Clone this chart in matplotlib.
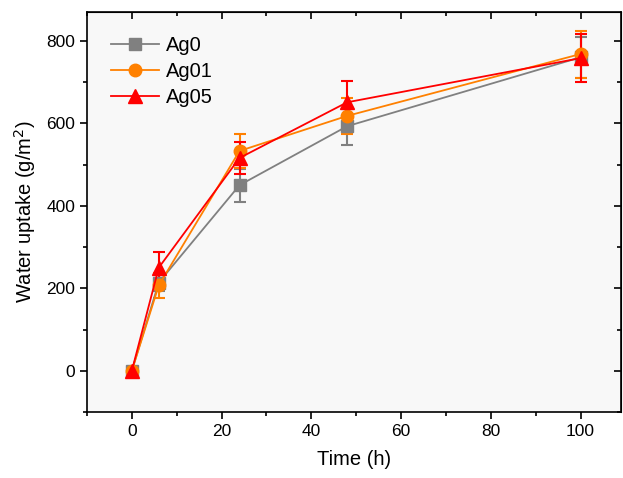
import numpy as np
import matplotlib
matplotlib.use('Agg')
import matplotlib.pyplot as plt

plt.rcParams['font.family'] = ['Liberation Sans', 'DejaVu Sans']

time = [0, 6, 24, 48, 100]
ag0 = [0, 214, 450, 593, 760]
ag0_err = [5, 20, 40, 45, 50]
ag01 = [0, 207, 533, 618, 768]
ag01_err = [5, 31, 42, 44, 57]
ag05 = [0, 250, 516, 651, 758]
ag05_err = [5, 39, 39, 51, 59]
names = ['Ag0', 'Ag01', 'Ag05']

fig = plt.figure(figsize=(6.23, 4.78), dpi=100)
ax = fig.add_axes([0.1396, 0.138, 0.857, 0.837])
ax.set_facecolor('#f8f8f8')

series = [(ag0, ag0_err, '#808080', 's', 8),
          (ag01, ag01_err, '#FF8000', 'o', 9),
          (ag05, ag05_err, '#FF0000', '^', 10)]
handles = []
for y, err, c, m, ms in series:
    eb = ax.errorbar(time, y, yerr=err, color=c, marker=m, ms=ms, lw=1.3,
                     capsize=4, elinewidth=1.5, capthick=1.5)
    handles.append(eb[0])

ax.set_xlim(-10, 109)
ax.set_ylim(-72, 870)
ax.set_xticks([0, 20, 40, 60, 80, 100])
ax.set_xticks(np.arange(-10, 110, 10), minor=True)
ax.set_yticks([0, 200, 400, 600, 800])
ax.set_yticks(np.arange(-100, 900, 100), minor=True)
ax.tick_params(which='major', direction='out', length=5, width=1.2, labelsize=12.5)
ax.tick_params(which='minor', direction='out', length=3, width=1.2)

top = ax.secondary_xaxis('top')
top.set_xticks([0, 20, 40, 60, 80, 100])
top.set_xticks(np.arange(-10, 110, 10), minor=True)
top.tick_params(which='major', direction='in', length=5, width=1.2, labeltop=False)
top.tick_params(which='minor', direction='in', length=3, width=1.2)
right = ax.secondary_yaxis('right')
right.set_yticks([0, 200, 400, 600, 800])
right.set_yticks(np.arange(-100, 900, 100), minor=True)
right.tick_params(which='major', direction='in', length=5, width=1.2, labelright=False)
right.tick_params(which='minor', direction='in', length=3, width=1.2)

for s in ax.spines.values():
    s.set_linewidth(1.2)

ax.set_xlabel('Time (h)', fontsize=14.5, labelpad=8)
ax.set_ylabel('Water uptake (g/m$^2$)', fontsize=14.5, labelpad=6)

ax.legend(handles, names, loc='upper left', frameon=False, fontsize=14.5,
          handlelength=2.4, handletextpad=0.3, labelspacing=0.35,
          borderaxespad=0.8)

fig.savefig('out.png', dpi=100)
